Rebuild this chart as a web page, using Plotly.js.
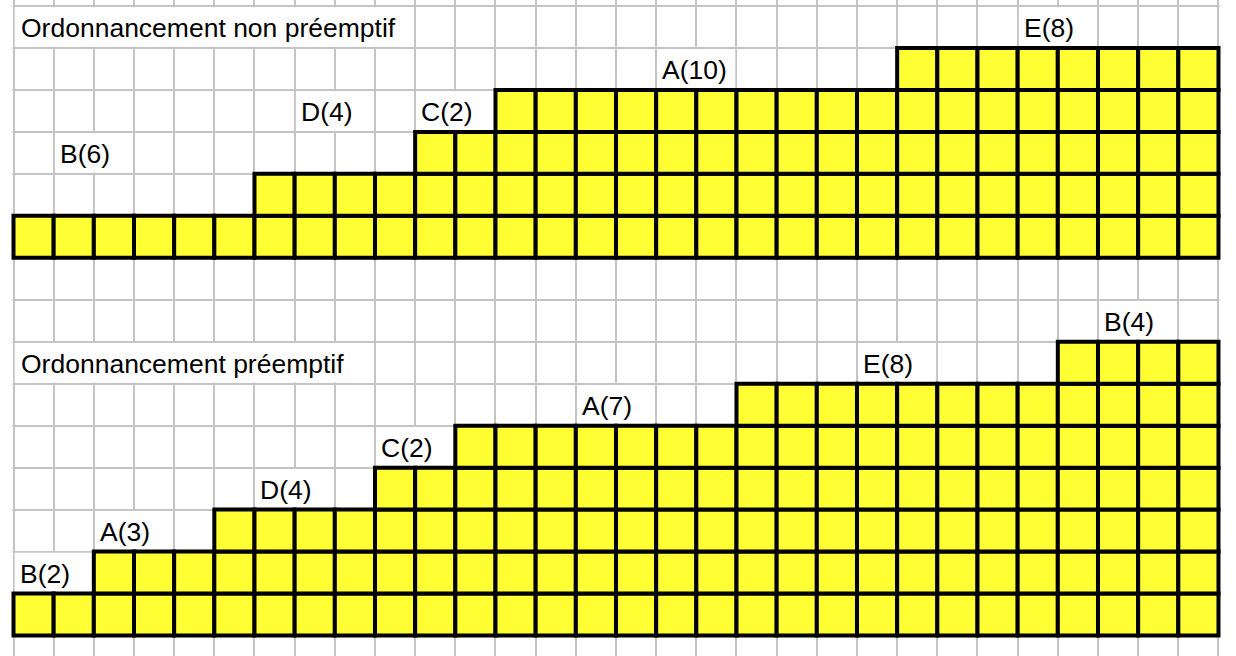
<!DOCTYPE html>
<html>
<head>
<meta charset="utf-8">
<script src="https://cdn.plot.ly/plotly-3.0.1.min.js"></script>
<style>html,body{margin:0;padding:0;background:#fff;}#chart{width:1236px;height:656px;}</style>
</head>
<body>
<div id="chart"></div>
<script>
// ---- data ----
const topTitle = 'Ordonnancement non préemptif';
const topTasks = ['B', 'D', 'C', 'A', 'E'];
const topDurations = [6, 4, 2, 10, 8];

const bottomTitle = 'Ordonnancement préemptif';
const bottomTasks = ['B', 'A', 'D', 'C', 'A', 'E', 'B'];
const bottomDurations = [2, 3, 4, 2, 7, 8, 4];

// ---- layout config (positions in grid cells) ----
const sections = [
  { title: topTitle, tasks: topTasks, durations: topDurations, base: 9,
    titleBox: [0, 10, 5], labelPos: [[1, 2], [7, 3], [10, 3], [16, 4], [25, 5]] },
  { title: bottomTitle, tasks: bottomTasks, durations: bottomDurations, base: 0,
    titleBox: [0, 9, 6], labelPos: [[0, 1], [2, 2], [6, 3], [9, 4], [14, 5], [21, 6], [27, 7]] }
];

const YELLOW = '#ffff33';
const FONT = 'Liberation Sans, Arial, Helvetica, sans-serif';
const FS = 26.5;
const traces = [];
const shapes = [];
const annotations = [];
const inset = 0.03;

function whiteBox(x0, x1, y0, y1) {
  shapes.push({ type: 'rect', layer: 'between', xref: 'x', yref: 'y',
    x0: x0 + inset, x1: x1 - inset, y0: y0 + inset, y1: y1 - inset,
    fillcolor: '#ffffff', line: { width: 0 } });
}
function label(text, col, y) {
  annotations.push({ x: col, y: y + 0.5, xref: 'x', yref: 'y', text: text,
    showarrow: false, xanchor: 'left', yanchor: 'middle', xshift: 4, yshift: -1,
    font: { family: FONT, size: FS, color: '#000' } });
}

sections.forEach(sec => {
  // column heights: each task segment stacks one more level
  const heights = [];
  sec.durations.forEach((d, i) => { for (let k = 0; k < d; k++) heights.push(i + 1); });
  const maxH = Math.max(...heights);
  for (let L = 0; L < maxH; L++) {
    const xs = [], ys = [], bs = [];
    heights.forEach((h, c) => { if (h > L) { xs.push(c + 0.5); ys.push(1); bs.push(sec.base + L); } });
    traces.push({ type: 'bar', x: xs, y: ys, base: bs, width: 1,
      marker: { color: YELLOW, line: { color: '#000', width: 4 } },
      hoverinfo: 'skip', showlegend: false });
  }
  // title box
  const [tc0, tc1, tr] = sec.titleBox;
  whiteBox(tc0, tc1, sec.base + tr, sec.base + tr + 1);
  annotations.push({ x: tc0, y: sec.base + tr + 0.5, xref: 'x', yref: 'y', text: sec.title,
    showarrow: false, xanchor: 'left', yanchor: 'middle', xshift: 5, yshift: -1,
    font: { family: FONT, size: FS, color: '#000' } });
  // task labels
  sec.tasks.forEach((t, i) => {
    const [c, r] = sec.labelPos[i];
    whiteBox(c, c + 2, sec.base + r, sec.base + r + 1);
    label(t + '(' + sec.durations[i] + ')', c, sec.base + r);
  });
});

// cover grid outside the drawing columns
whiteBox(-2, -0.025 + inset, -2, 20);
whiteBox(30.025 - inset, 33, -2, 20);

const layout = {
  width: 1236, height: 656,
  margin: { l: 0, r: 0, t: 0, b: 0, pad: 0 },
  paper_bgcolor: '#fff', plot_bgcolor: '#fff',
  barmode: 'overlay', bargap: 0,
  showlegend: false,
  xaxis: { range: [-0.336, 30.436], tick0: 0, dtick: 1, showticklabels: false,
    showgrid: true, gridcolor: '#c4c4c4', gridwidth: 2, zeroline: false, showline: false, ticks: '' },
  yaxis: { range: [-0.488, 15.143], tick0: 0, dtick: 1, showticklabels: false,
    showgrid: true, gridcolor: '#c4c4c4', gridwidth: 2, zeroline: false, showline: false, ticks: '' },
  shapes: shapes,
  annotations: annotations
};

Plotly.newPlot('chart', traces, layout, { displayModeBar: false, staticPlot: true });
</script>
</body>
</html>
